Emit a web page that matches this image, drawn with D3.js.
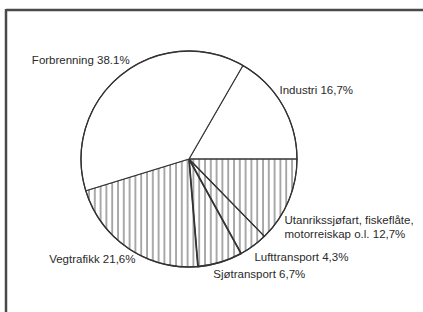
<!DOCTYPE html>
<html>
<head>
<meta charset="utf-8">
<script src="https://cdn.jsdelivr.net/npm/d3@7"></script>
<style>
  body { margin: 0; background: #fff; }
  text { font-family: "Liberation Sans", Arial, sans-serif; font-size: 11.5px; fill: #2a2a2a; }
</style>
</head>
<body>
<svg id="pie"></svg>
<script>
// share of emissions by source, in percent
const labels = [
  ["Industri 16,7%"],
  ["Utanrikssjøfart, fiskeflåte,", "motorreiskap o.l. 12,7%"],
  ["Lufttransport 4,3%"],
  ["Sjøtransport 6,7%"],
  ["Vegtrafikk 21,6%"],
  ["Forbrenning 38.1%"]
];
const values = [16.7, 12.7, 4.3, 6.7, 21.6, 38.1];
const hatched = [false, true, true, true, true, false];

const W = 423, H = 312;
const cx = 189, cy = 159, r = 108;

// label placement relative to the slice edge point
const labelOffsets = [[-3, -11], [-4, 23], [1, 15], [-7, 16], [7, 15], [8, -11]];
const labelAnchor = ["start", "start", "start", "start", "end", "end"];

const svg = d3.select("#pie")
  .attr("width", W)
  .attr("height", H);

// frame (only top and left edges are visible in the scan)
svg.append("line")
  .attr("x1", 6).attr("y1", 10).attr("x2", W).attr("y2", 10)
  .attr("stroke", "#4a4a4a").attr("stroke-width", 2.5);
svg.append("line")
  .attr("x1", 6).attr("y1", 9).attr("x2", 6).attr("y2", H)
  .attr("stroke", "#4a4a4a").attr("stroke-width", 2.5);

const defs = svg.append("defs");
const pat = defs.append("pattern")
  .attr("id", "vhatch")
  .attr("patternUnits", "userSpaceOnUse")
  .attr("width", 5.8)
  .attr("height", 10)
  .attr("x", cx);
pat.append("line")
  .attr("x1", 1).attr("y1", 0).attr("x2", 1).attr("y2", 10)
  .attr("stroke", "#555").attr("stroke-width", 1);

const start = Math.PI / 2 - values[0] / d3.sum(values) * 2 * Math.PI;
const pie = d3.pie()
  .sort(null)
  .startAngle(start)
  .endAngle(start + 2 * Math.PI);
const arcs = pie(values);

const arc = d3.arc().innerRadius(0).outerRadius(r);

const g = svg.append("g")
  .attr("transform", "translate(" + cx + "," + cy + ")");

g.selectAll("path.slice")
  .data(arcs)
  .join("path")
    .attr("class", "slice")
    .attr("d", arc)
    .attr("fill", (d, i) => hatched[i] ? "url(#vhatch)" : "#fff")
    .attr("stroke", "#333")
    .attr("stroke-width", (d, i) => i == 3 ? 1.8 : 1.1)
    .attr("stroke-linejoin", "round");

// outline
g.append("circle")
  .attr("r", r)
  .attr("fill", "none")
  .attr("stroke", "#333")
  .attr("stroke-width", 1.3);

const lbl = svg.append("g").selectAll("text")
  .data(arcs)
  .join("text")
    .attr("text-anchor", (d, i) => labelAnchor[i])
    .attr("transform", (d, i) => {
      const a = (d.startAngle + d.endAngle) / 2;
      const x = cx + r * Math.sin(a) + labelOffsets[i][0];
      const y = cy - r * Math.cos(a) + labelOffsets[i][1];
      return "translate(" + x + "," + y + ")";
    });

lbl.selectAll("tspan")
  .data((d, i) => labels[i])
  .join("tspan")
    .attr("x", 0)
    .attr("dy", (t, j) => j == 0 ? 0 : 14)
    .text(t => t);
</script>
</body>
</html>
